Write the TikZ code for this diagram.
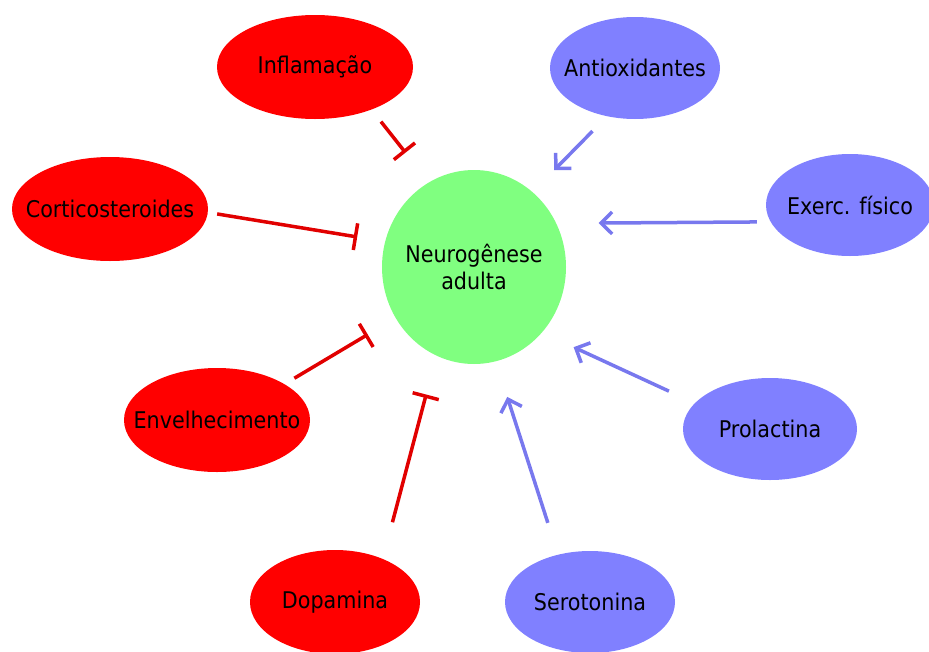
\documentclass[tikz,border=0pt]{standalone}
\usepackage{fontspec}
\setmainfont{DejaVu Sans}[FakeStretch=0.9]
\usetikzlibrary{shapes.geometric,arrows.meta}
\definecolor{inibred}{RGB}{255,0,0}
\definecolor{inibline}{RGB}{225,0,0}
\definecolor{estblue}{RGB}{128,128,255}
\definecolor{estline}{RGB}{120,120,238}
\definecolor{neurogreen}{RGB}{128,255,128}
\begin{document}
\begin{tikzpicture}[x=1pt,y=-1pt,
  font=\fontsize{23}{27}\selectfont,
  bolha/.style 2 args={ellipse,inner sep=0pt,outer sep=0pt,
    minimum width=#1,minimum height=#2},
  every label/.style={text=black,align=center},
  inib/.style={bolha={#1}{104pt},fill=inibred},
  estim/.style={bolha={#1}{102pt},fill=estblue},
  bloqueia/.style={draw=inibline,line width=3.5pt,
    -{Bar[width=27pt]}},
  ativa/.style={draw=estline,line width=3.5pt,
    -{Straight Barb[length=11pt,width=22pt]}}]
\useasboundingbox (0,0) rectangle (929,651);
\node[bolha={184pt}{194pt},fill=neurogreen,
  label=center:{Neurog\^enese\\adulta}] (neuro) at (474,267) {};
\node[inib=196pt,label=center:Inflamação] (infl) at (315,67) {};
\node[inib=196pt,label=center:Corticosteroides] (cort) at (110,209) {};
\node[inib=186pt,label=center:Envelhecimento] (envel) at (217,420) {};
\node[inib=170pt,label=center:Dopamina] (dopa) at (335,602) {};
\node[estim=170pt,label=center:Antioxidantes] (antiox) at (635,68) {};
\node[estim=168pt,label=center:Exerc. físico] (exerc) at (850,205) {};
\node[estim=174pt,label=center:Prolactina] (prol) at (770,429) {};
\node[estim=170pt,label=center:Serotonina] (sero) at (590,602) {};
\draw[bloqueia,shorten <=15.4pt,shorten >=37.9pt]
  (infl.-37.9) -- (neuro.118.1);
\draw[bloqueia,shorten <=9.5pt,shorten >=28.4pt]
  (cort.-2.6) -- (neuro.164.7);
\draw[bloqueia,shorten <=11.6pt,shorten >=32.5pt]
  (envel.28) -- (neuro.213.4);
\draw[bloqueia,shorten <=38pt,shorten >=40.3pt]
  (dopa.42.8) -- (neuro.247.8);
\draw[ativa,shorten <=21pt,shorten >=30.8pt]
  (antiox.240) -- (neuro.52.3);
\draw[ativa,shorten <=13.8pt,shorten >=42.5pt]
  (exerc.192.1) -- (neuro.28.9);
\draw[ativa,shorten <=28.7pt,shorten >=35pt]
  (prol.161.9) -- (neuro.-44.6);
\draw[ativa,shorten <=33.5pt,shorten >=37.5pt]
  (sero.124.9) -- (neuro.-77);
\end{tikzpicture}
\end{document}
